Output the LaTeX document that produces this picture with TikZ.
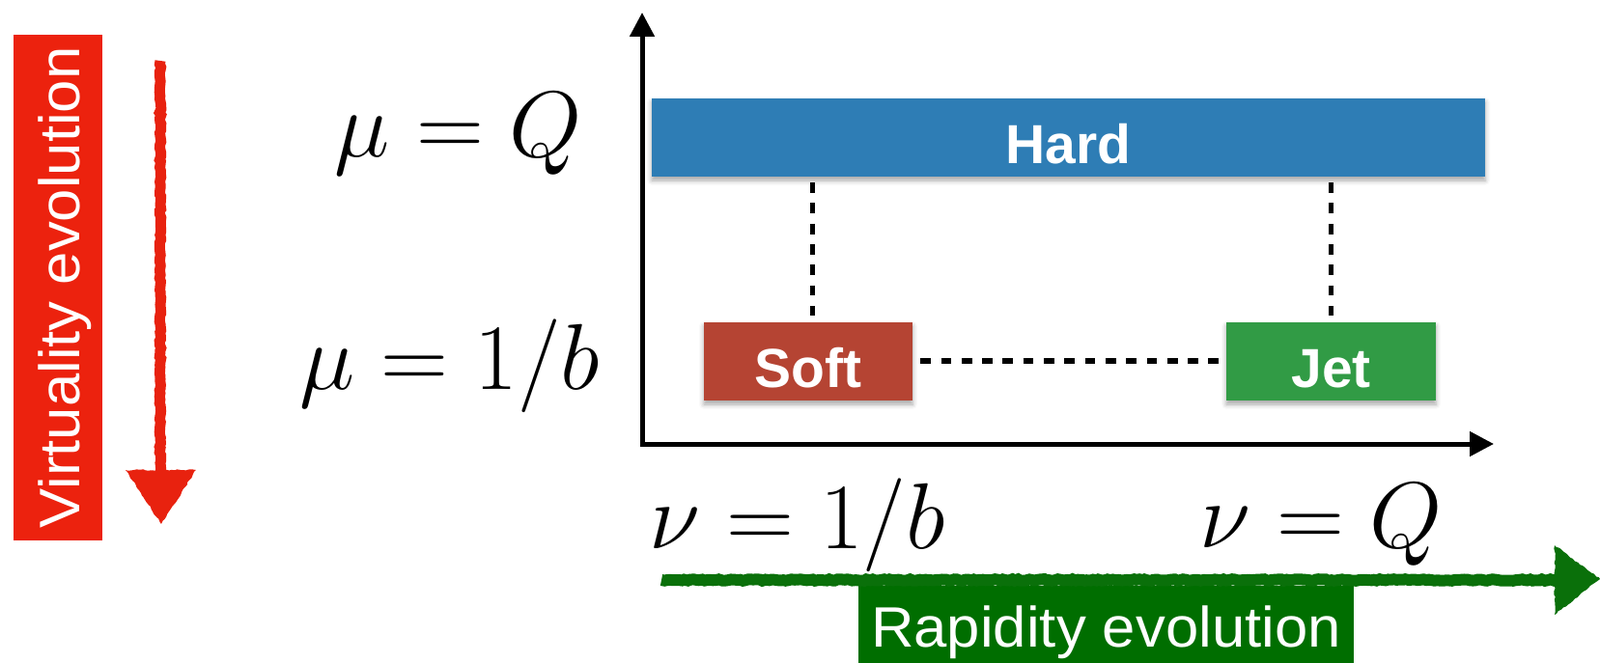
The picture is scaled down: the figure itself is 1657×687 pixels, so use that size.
\RequirePackage{fix-cm}
\documentclass[tikz,border=0pt]{standalone}
\usepackage{fontspec}
\newfontfamily\helv{Liberation Sans}
\usetikzlibrary{arrows.meta,shadows.blur,decorations.pathmorphing}
\definecolor{hardblue}{HTML}{2E7DB5}
\definecolor{softred}{HTML}{B54433}
\definecolor{jetgreen}{HTML}{319B45}
\definecolor{virtred}{HTML}{EC220E}
\definecolor{rapgreen}{HTML}{006E00}
\definecolor{chalkred}{HTML}{E8220F}
\definecolor{chalkgreen}{HTML}{0A700A}
\tikzset{
  blockbox/.style={inner sep=0pt, text=white, font=\helv\bfseries\fontsize{57}{60}\selectfont,
    text height=54pt, text depth=0pt,
    blur shadow={shadow xshift=0pt, shadow yshift=-4pt, shadow blur radius=5pt, shadow opacity=35}},
  labelbox/.style={inner sep=0pt, text=white, font=\helv\fontsize{59}{62}\selectfont, text depth=0pt},
  mathlabel/.style={inner sep=0pt, anchor=base, font=\fontsize{97}{100}\selectfont},
  axisline/.style={line width=5pt, -{Triangle[length=25pt,width=25pt]}},
  vdash/.style={line width=5pt, dash pattern=on 10.7pt off 10.6pt, shorten <=6pt, shorten >=7pt},
  hdash/.style={line width=5.5pt, dash pattern=on 10.7pt off 10.6pt},
  chalk/.style={decorate, decoration={random steps, segment length=3pt, amplitude=0.8pt}}
}
\begin{document}
\begin{tikzpicture}[x=1pt,y=-1pt]
\useasboundingbox (0,0) rectangle (1657,687);

% axes
\coordinate (origin) at (665,460);
\coordinate (ytip) at (665,13);
\coordinate (xtip) at (1547,460);
\coordinate (xstart) at (662.5,460);
\draw[axisline] (origin) -- (ytip);
\draw[axisline] (xstart) -- (xtip);

% boxes
\node[blockbox, fill=hardblue, minimum width=863pt, minimum height=81pt] (hard) at (1106.5,142.5) {Hard};
\node[blockbox, fill=softred, minimum width=216pt, minimum height=81pt] (soft) at (837,374.5) {Soft};
\node[blockbox, fill=jetgreen, minimum width=217pt, minimum height=81pt] (jet) at (1378.5,374.5) {Jet};

% dashed connectors
\draw[vdash] ([xshift=4pt]soft.north |- hard.south) -- ([xshift=4pt]soft.north);
\draw[vdash] (jet.north |- hard.south) -- (jet.north);
\draw[hdash, shorten <=8pt, shorten >=7pt] (soft.east |- 0,374) -- (jet.west |- 0,374);

% math labels
\node[mathlabel] (muQ) at (475,163) {$\mu = Q$};
\node[mathlabel] (mub) at (466,403) {$\mu = 1/b$};
\node[mathlabel] (nub) at (826,568) {$\nu = 1/b$};
\node[mathlabel] (nuQ) at (1368,567) {$\nu = Q$};

% virtuality label and arrow
\node[labelbox, fill=virtred, rotate=90, minimum width=524pt, minimum height=92pt, text height=44pt] (virt) at (60,298) {\scalebox{1.045}[1]{Virtuality evolution}};
\coordinate (rtop) at (166,63);
\coordinate (rbase) at (166,490);
\coordinate (rl) at (130,487);
\coordinate (rr) at (203,487);
\coordinate (rtip) at (167,543);
\draw[chalkred, line width=11pt, chalk] (rtop) -- (rbase);
\fill[chalkred, chalk] (rl) -- (rr) -- (rtip) -- cycle;

% rapidity label and arrow
\node[labelbox, fill=rapgreen, minimum width=513pt, minimum height=80pt, text height=46pt] (rap) at (1145.5,647) {\scalebox{1.045}[1]{Rapidity evolution}};
\coordinate (gstart) at (685,601);
\coordinate (gbase) at (1614,601);
\coordinate (gt) at (1610,565);
\coordinate (gb) at (1610,637);
\coordinate (gtip) at (1657,600);
\draw[chalkgreen, line width=12pt, chalk] (gstart) -- (gbase);
\fill[chalkgreen, chalk] (gt) -- (gtip) -- (gb) -- cycle;
\end{tikzpicture}
\end{document}
